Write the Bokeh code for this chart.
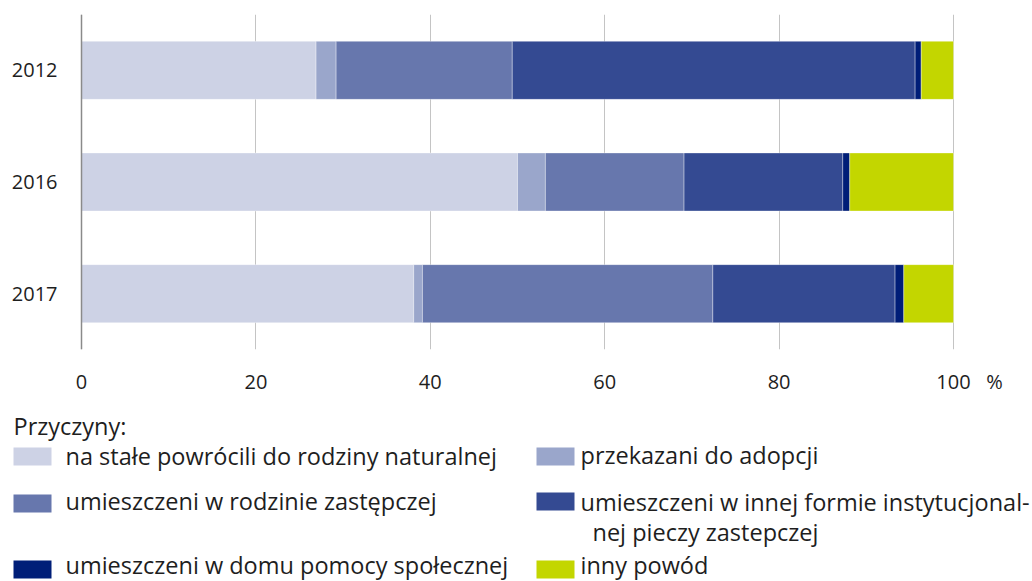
from bokeh.plotting import figure
from bokeh.models import ColumnDataSource, FactorRange, Range1d, FixedTicker, Span
from bokeh.layouts import column
from bokeh.core.properties import value
from bokeh.embed import file_html
from bokeh.resources import INLINE

# ---- data ----
years = ["2012", "2016", "2017"]
powrot = [26.9, 50.0, 38.1]          # na stałe powrócili do rodziny naturalnej
adopcja = [2.3, 3.2, 1.0]            # przekazani do adopcji
rodzina_zast = [20.2, 15.9, 33.3]    # umieszczeni w rodzinie zastępczej
instytucja = [46.2, 18.2, 20.9]      # umieszczeni w innej formie instytucjonalnej pieczy
dps = [0.7, 0.8, 1.0]                # umieszczeni w domu pomocy społecznej
inny = [3.7, 11.9, 5.7]              # inny powód

series_keys = ["powrot", "adopcja", "rodzina_zast", "instytucja", "dps", "inny"]
series_labels = [
    "na stałe powrócili do rodziny naturalnej",
    "przekazani do adopcji",
    "umieszczeni w rodzinie zastępczej",
    "umieszczeni w innej formie instytucjonal-\nnej pieczy zastepczej",
    "umieszczeni w domu pomocy społecznej",
    "inny powód",
]
colors = ["#CDD2E5", "#9AA6CB", "#6777AD", "#344A92", "#001E78", "#C3D600"]
x_ticks = [0, 20, 40, 60, 80, 100]
legend_title = "Przyczyny:"
unit = "%"

TXT = "#1e1e1e"
FONT = value("Open Sans")
W = 1032
TOP_H, LEG_H = 400, 181
X0_PX, X100_PX, FT, FB = 81, 953, 14, 349   # where 0 and 100 sit; frame top/bottom
PX_PER_UNIT = (X100_PX - X0_PX) / 100.0
UNIT_OFFSET_PX = 41                          # "%" sits to the right of "100"
TEXT_SHIFT = -10                             # baseline correction for legend texts
LEG_FS = "23.5px"
HANG_INDENT = 12                             # continuation line indent in legend

source = ColumnDataSource(dict(year=years, powrot=powrot, adopcja=adopcja,
                               rodzina_zast=rodzina_zast, instytucja=instytucja,
                               dps=dps, inny=inny))

p = figure(width=W, height=TOP_H, output_backend="svg", toolbar_location=None,
           y_range=FactorRange(factors=list(reversed(years))),
           x_range=Range1d(-X0_PX / PX_PER_UNIT, 100 + (W - X100_PX) / PX_PER_UNIT),
           y_axis_location=None)
p.min_border_left = 0
p.min_border_right = 0
p.min_border_top = FT
p.min_border_bottom = TOP_H - FB
p.outline_line_color = None

p.hbar_stack(series_keys, y="year", height=0.52, color=colors, source=source,
             line_color="white", line_alpha=0.35, line_width=1)

p.ygrid.grid_line_color = None
p.xgrid.ticker = FixedTicker(ticks=x_ticks)
p.xgrid.grid_line_color = "#c4c4c4"
p.xgrid.grid_line_width = 1

# value axis line at 0
p.add_layout(Span(location=0, dimension="height", line_color="#8a8a8a", line_width=1.5))

# category labels at the value origin
p.text(x=0, y="year", text="year", source=source, x_offset=-24,
       text_font=FONT, text_font_size="20px", text_color=TXT,
       text_align="right", text_baseline="middle")

unit_pos = round(100 + UNIT_OFFSET_PX / PX_PER_UNIT, 1)
p.xaxis.ticker = FixedTicker(ticks=x_ticks + [unit_pos])
p.xaxis.major_label_overrides = {unit_pos: unit}
p.xaxis.axis_line_color = None
p.xaxis.major_tick_line_color = None
p.xaxis.minor_tick_line_color = None
p.xaxis.major_tick_out = 0
p.xaxis.major_tick_in = 0
p.xaxis.minor_tick_out = 0
p.xaxis.major_label_standoff = 18
p.xaxis.major_label_text_font = "Open Sans"
p.xaxis.major_label_text_font_size = "20px"
p.xaxis.major_label_text_color = TXT

# ---- legend below the plot (canvas-pixel layout) ----
leg = figure(width=W, height=LEG_H, output_backend="svg", toolbar_location=None,
             x_range=Range1d(0, W), y_range=Range1d(TOP_H + LEG_H, TOP_H),
             x_axis_type=None, y_axis_type=None)
leg.min_border = 0
leg.min_border_left = 0
leg.min_border_right = 0
leg.min_border_top = 0
leg.min_border_bottom = 0
leg.outline_line_color = None
leg.xgrid.visible = False
leg.ygrid.visible = False

leg.text(x=[13], y=[435 + TEXT_SHIFT], text=[legend_title], text_font=FONT,
         text_font_size=LEG_FS, text_color=TXT,
         text_baseline="alphabetic", text_align="left")

# (swatch left, swatch top, text x, text baseline)
slots = [(13, 447, 65, 465), (536, 447, 580, 464),
         (13, 494, 65, 510), (536, 492, 580, 511),
         (13, 560, 65, 574), (536, 560, 580, 574)]
for idx, (sx, sy, tx, ty) in enumerate(slots):
    leg.quad(left=[sx], right=[sx + 38], top=[sy], bottom=[sy + 18],
             color=colors[idx], line_color=None)
    for k, line in enumerate(series_labels[idx].split("\n")):
        leg.text(x=[tx + (HANG_INDENT if k > 0 else 0)], y=[ty + 30 * k + TEXT_SHIFT],
                 text=[line], text_font=FONT,
                 text_font_size=LEG_FS, text_color=TXT,
                 text_baseline="alphabetic", text_align="left")

layout = column(p, leg)
open("out.html", "w").write(file_html(layout, INLINE))
